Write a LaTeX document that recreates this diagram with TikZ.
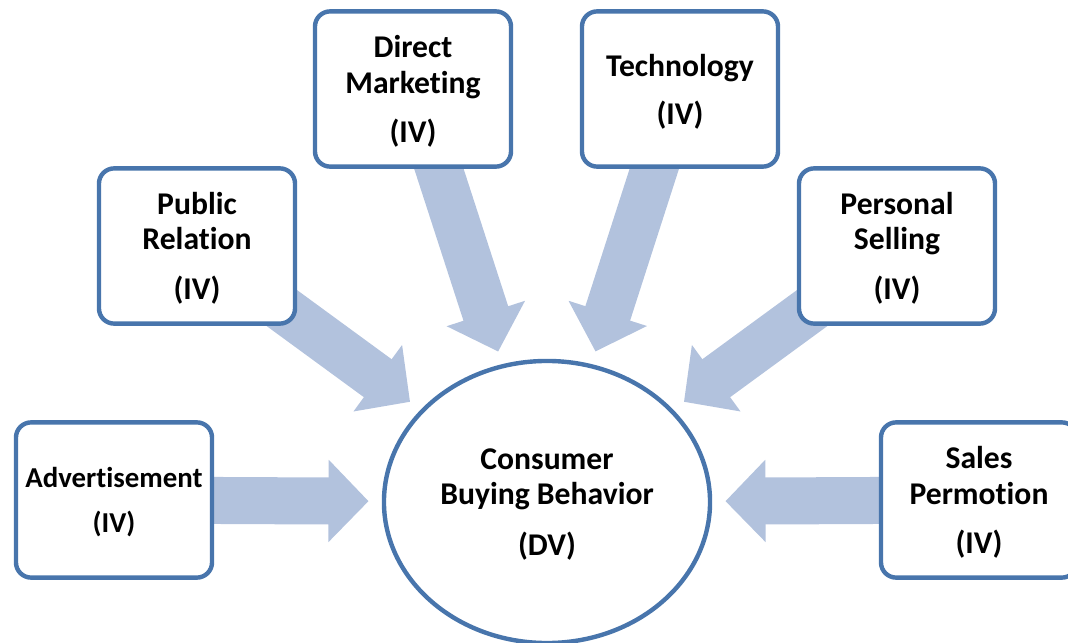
\documentclass[tikz,border=0pt]{standalone}
\usepackage{fontspec}
\setmainfont{Carlito}[Ligatures=NoCommon]
\usepackage{tikz}
\usetikzlibrary{shapes.geometric,arrows.meta,backgrounds}
\definecolor{boxblue}{RGB}{72,117,172}
\definecolor{flowblue}{RGB}{178,194,221}
\tikzstyle{factor}=[rectangle, rounded corners=0.38cm, draw=boxblue, fill=white, line width=0.11cm, minimum width=4.9cm, minimum height=3.88cm, align=center, text depth=0pt, font=\bfseries\fontsize{22.5}{25}\selectfont]
\tikzstyle{outcome}=[ellipse, draw=boxblue, fill=white, line width=0.11cm, minimum width=8.15cm, minimum height=7.05cm, align=center, text depth=0pt, font=\bfseries\fontsize{22.5}{25}\selectfont]
\tikzstyle{flow}=[draw=flowblue, line width=1.175cm, -{Triangle[length=1cm 0, width=2cm 0]}, shorten >=0.33cm]

\begin{document}
\begin{tikzpicture}[x=0.025cm, y=-0.025cm]
                    \clip (0,0) rectangle (1068,643);
                    \node[outcome] (0) at (547, 502) {Consumer\\Buying Behavior\\[11pt](DV)};
                    \node[factor, font=\bfseries\fontsize{20.5}{25}\selectfont] (1) at (114, 500) {Advertisement\\[7pt](IV)};
                    \node[factor] (2) at (197, 246) {Public\\Relation\\[11pt](IV)};
                    \node[factor] (3) at (413,  89) {Direct\\Marketing\\[10pt](IV)};
                    \node[factor] (4) at (680,  89) {Technology\\[9pt](IV)};
                    \node[factor] (5) at (897, 246) {Personal\\Selling\\[11pt](IV)};
                    \node[factor] (6) at (979, 500) {Sales\\Permotion\\[10pt](IV)};
                    % block arrows sit under the boxes
                    \begin{pgfonlayer}{background}
                        \foreach \i in {1,...,6}
                            \draw[flow] (\i.center)--(0);
                    \end{pgfonlayer}
                \end{tikzpicture}
\end{document}
